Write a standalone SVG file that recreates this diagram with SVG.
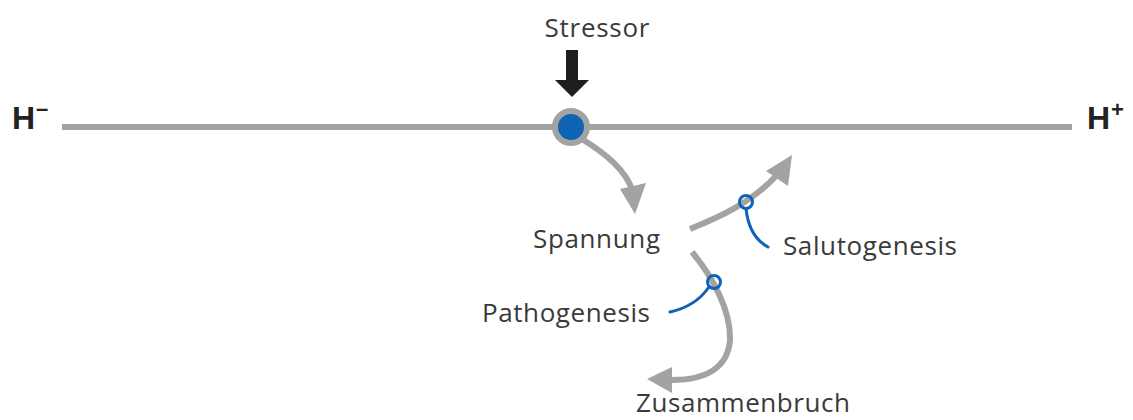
<svg xmlns="http://www.w3.org/2000/svg" width="1133" height="420" viewBox="0 0 1133 420">
  <style>
    .lbl { font-family: "Open Sans", "Liberation Sans", sans-serif; font-size: 26px; fill: #3a3a3a; }
    .pole { font-family: "Liberation Sans", Arial, sans-serif; font-size: 32px; font-weight: bold; fill: #222222; }
    .flow { fill: none; stroke: #a3a3a3; stroke-width: 6; stroke-linecap: butt; }
    .head { fill: #a3a3a3; }
    .tag { fill: none; stroke: #0f63b4; stroke-width: 3; stroke-linecap: round; }
  </style>

  <!-- health continuum axis -->
  <g id="axis">
    <line x1="62" y1="127" x2="1072" y2="127" stroke="#a3a3a3" stroke-width="6"/>
  </g>

  <g id="pole-minus">
    <text class="pole" x="12" y="129">H<tspan font-size="22" dy="-13" dx="1">–</tspan></text>
  </g>
  <g id="pole-plus">
    <text class="pole" x="1087" y="129">H<tspan font-size="22" dy="-12" dx="1">+</tspan></text>
  </g>

  <!-- stressor hitting the current state -->
  <g id="stressor">
    <text class="lbl" x="597" y="37" text-anchor="middle" textLength="105" lengthAdjust="spacing">Stressor</text>
    <polygon points="566,50 578,50 578,80 589,80 572,97 555,80 566,80" fill="#1e1e1e"/>
  </g>

  <g id="state">
    <circle cx="571" cy="127" r="16" fill="#0f63b4" stroke="#a3a3a3" stroke-width="6"/>
  </g>

  <!-- connectors -->
  <g id="connectors">
    <path class="flow" d="M 582 139 C 606 154 626 170 633 192"/>
    <polygon class="head" points="635,214 620,189 646,183"/>

    <path class="flow" d="M 690 229 C 722 216 752 202 776 176"/>
    <polygon class="head" points="792,155 766,171 788,186"/>

    <path class="flow" d="M 692 252 C 712 276 731 310 730 340 C 728 366 708 380 672 380"/>
    <polygon class="head" points="647,379 672,367 672,393"/>
  </g>

  <g id="salutogenesis">
    <circle class="tag" cx="746" cy="202" r="6.5"/>
    <path class="tag" d="M 746 208.5 C 748 228 755 240 768 247"/>
    <text class="lbl" x="783" y="255" textLength="174" lengthAdjust="spacing">Salutogenesis</text>
  </g>

  <g id="pathogenesis">
    <circle class="tag" cx="714" cy="282" r="6.5"/>
    <path class="tag" d="M 709 287 C 700 300 688 308 670 312"/>
    <text class="lbl" x="482" y="322" textLength="168" lengthAdjust="spacing">Pathogenesis</text>
  </g>

  <g id="spannung">
    <text class="lbl" x="533" y="248" textLength="127" lengthAdjust="spacing">Spannung</text>
  </g>

  <g id="zusammenbruch">
    <text class="lbl" x="636" y="412" textLength="214" lengthAdjust="spacing">Zusammenbruch</text>
  </g>
</svg>
